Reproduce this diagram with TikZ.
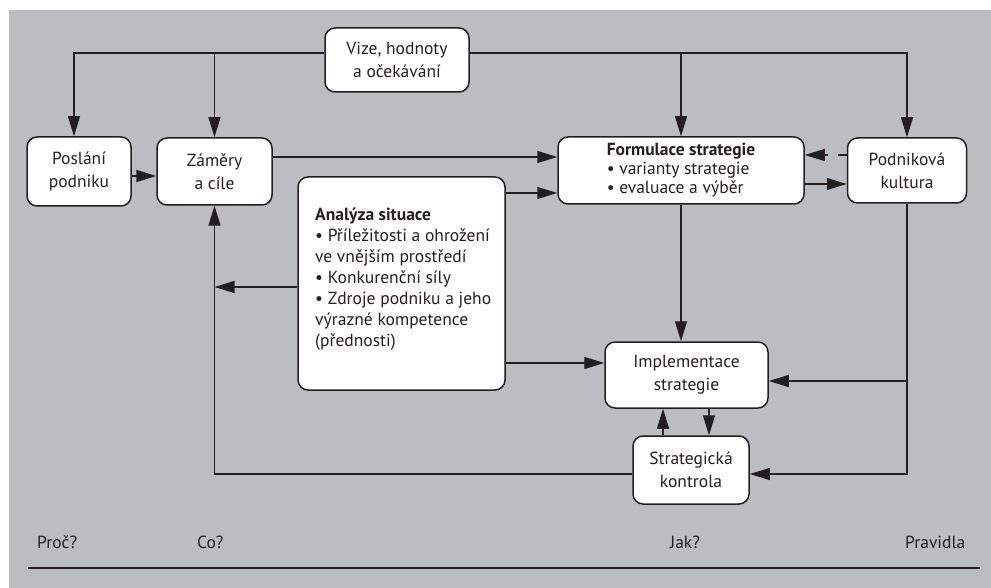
\documentclass[tikz,border=0pt]{standalone}
\usepackage{fontspec}
\setmainfont{PT Sans}
\usetikzlibrary{arrows.meta}
\definecolor{panelgray}{HTML}{BCBDC0}
\definecolor{ink}{HTML}{231F20}

\begin{document}
\begin{tikzpicture}[x=1pt,y=-1pt,
  font=\fontsize{17.5}{23}\selectfont,
  box/.style={draw=ink, fill=white, line width=1.5pt, rounded corners=10pt,
    inner sep=0pt, align=center, text=ink},
  conn/.style={draw=ink, line width=1.4pt, -{Triangle[length=20pt,width=12pt]}},
  plain/.style={draw=ink, line width=1.4pt},
  axislabel/.style={anchor=west, inner sep=0pt, text=ink},
]
\useasboundingbox (0,0) rectangle (991,588);
\fill[panelgray] (9,10) rectangle (991,588);

% boxes
\node[box, minimum width=144pt, minimum height=64pt] (vize) at (397,60)
  {Vize, hodnoty\\a očekávání};
\node[box, minimum width=104pt, minimum height=69pt] (posl) at (79,171.5)
  {Poslání\\podniku};
\node[box, minimum width=115pt, minimum height=67pt] (zam) at (214.5,171.5)
  {Záměry\\a cíle};
\node[box, minimum width=207pt, minimum height=213pt] (ana) at (401.5,283.5) {};
\node[anchor=north west, inner sep=0pt, align=left, text=ink,
  font=\fontsize{17.5}{21}\selectfont] (anatext) at (315,208)
  {\textbf{Analýza situace}\\
   • Příležitosti a ohrožení\\
   ve vnějším prostředí\\
   • Konkurenční síly\\
   • Zdroje podniku a jeho\\
   výrazné kompetence\\
   (přednosti)};
\node[box, minimum width=246pt, minimum height=67pt, align=left,
  font=\fontsize{17.5}{19}\selectfont] (form) at (681,170.5)
  {\textbf{Formulace strategie}\\
   • varianty strategie\\
   • evaluace a výběr};
\node[box, minimum width=119pt, minimum height=65pt] (podn) at (907,170.5)
  {Podniková\\kultura};
\node[box, minimum width=163pt, minimum height=66pt] (impl) at (686.5,375)
  {Implementace\\strategie};
\node[box, minimum width=116pt, minimum height=68pt] (strat) at (691,470)
  {Strategická\\kontrola};

% top distribution line from the vision box
\draw[conn] ([yshift=7pt]vize.west) -| ([xshift=-5pt]posl.north);
\draw[conn] ([yshift=7pt]vize.west) -| (zam.north);
\draw[conn] ([yshift=7pt]vize.east) -| (form.north);
\draw[conn] ([yshift=7pt]vize.east) -| (podn.north);

% horizontal flows
\draw[conn] (posl.east |- 0,176) -- (zam.west |- 0,176);
\draw[conn] (zam.east |- 0,157) -- (form.west |- 0,157);
\draw[conn] (ana.east |- 0,193) -- (form.west |- 0,193);
\draw[conn, dash pattern=on 9pt off 10pt] (podn.west |- 0,155) -- (form.east |- 0,155);
\draw[conn] (form.east |- 0,184) -- (podn.west |- 0,184);
\draw[conn] (ana.east |- 0,363) -- (impl.west |- 0,363);
\draw[conn] (ana.west |- 0,287) -- (zam.south |- 0,287);

% implementation and control
\draw[conn] (form.south) -- (form.south |- impl.north);
\draw[conn] (podn.south) |- (strat.east |- 0,474);
\draw[conn] (podn.south |- 0,381) -- (impl.east |- 0,381);
\draw[conn] (strat.west |- 0,474) -| (zam.south);
\draw[conn] (strat.north -| 663,0) -- (impl.south -| 663,0);
\draw[conn] (impl.south -| 709,0) -- (strat.north -| 709,0);

% question row
\node[axislabel] (why) at (37,542) {Proč?};
\node[axislabel] (what) at (197,542) {Co?};
\node[axislabel] (how) at (670,542) {Jak?};
\node[axislabel] (rules) at (905,542) {Pravidla};
\coordinate (baseL) at (28,568);
\coordinate (baseR) at (980,568);
\draw[plain] (baseL) -- (baseR);
\end{tikzpicture}
\end{document}
